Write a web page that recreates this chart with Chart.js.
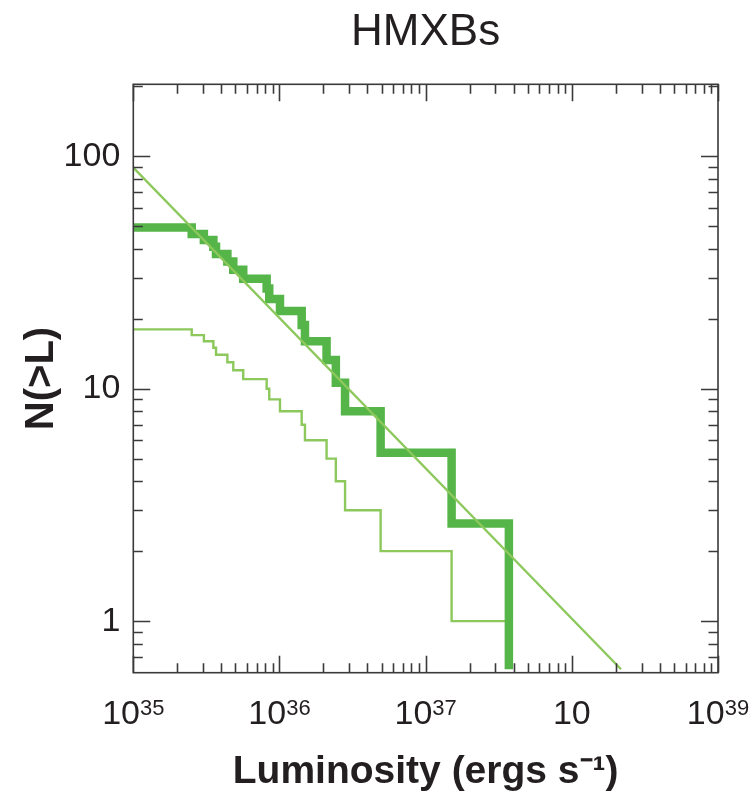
<!DOCTYPE html>
<html>
<head>
<meta charset="utf-8">
<script src="https://cdn.jsdelivr.net/npm/chart.js@4.4.1/dist/chart.umd.min.js"></script>
<style>
  html, body { margin: 0; padding: 0; background: #fff; }
  #wrap { width: 754px; height: 796px; }
</style>
</head>
<body>
<div id="wrap"><canvas id="c" width="754" height="796"></canvas></div>
<script>
// Cumulative luminosity function N(>L) of high-mass X-ray binaries

// Luminosities (erg/s) at which each cumulative level begins
const stepLuminosity = [1e35, 2.51e35, 3.04e35, 3.53e35, 3.68e35, 4.40e35, 4.83e35, 5.65e35,
  8.17e35, 8.51e35, 1.008e36, 1.419e36, 1.494e36, 2.10e36, 2.43e36, 2.81e36, 4.92e36,
  1.505e37, 3.71e37];
// Observed number of sources brighter than L
const observedCount = [18, 17, 16, 15, 14, 13, 12, 11, 10, 9, 8, 7, 6, 5, 4, 3, 2, 1, 1];
// Completeness-corrected number of sources brighter than L
const correctedCount = [49.4, 46.3, 43.6, 40.8, 38.0, 35.3, 32.5, 29.7, 27.0, 24.3, 21.6,
  18.8, 16.0, 13.3, 10.6, 8.0, 5.3, 2.63, 2.63];
// Power-law fit to the corrected distribution
const powerLawLuminosity = [1e35, 2.17e38];
const powerLawCount = [89.5, 0.621];

// Axis ticks and labels
const xTickValues = [1e35, 1e36, 1e37, 1e38, 1e39];
const xTickBase = ['10', '10', '10', '10', '10'];
const xTickExponent = ['35', '36', '37', '', '39'];
const yTickValues = [1, 10, 100];
const yTickLabels = ['1', '10', '100'];

const X_MIN = 1e35, X_MAX = 1e39;
const Y_MIN = 0.621, Y_MAX = 204;

const FONT = '"Liberation Sans", Arial, Helvetica, sans-serif';
const INK = '#231f20';
const THICK_GREEN = '#55b548';
const LIGHT_GREEN = '#8cc85c';

const pairs = (xs, ys) => xs.map((x, i) => ({ x, y: ys[i] }));

const observedPoints = pairs(stepLuminosity, observedCount);
// the corrected curve drops to the axis floor past its brightest source
const correctedPoints = pairs(stepLuminosity, correctedCount)
  .concat([{ x: stepLuminosity[stepLuminosity.length - 1], y: Y_MIN }]);
const powerLawPoints = pairs(powerLawLuminosity, powerLawCount);

// Frame, inward tick marks on all four sides, and superscripted x labels
const frameAndTicks = {
  id: 'frameAndTicks',
  afterDraw(chart) {
    const { ctx, chartArea: a, scales: { x, y } } = chart;
    ctx.save();
    ctx.strokeStyle = '#3a3a3a';
    ctx.lineWidth = 1.6;
    ctx.lineCap = 'butt';
    const MAJOR = 17, MINOR = 9.5;
    ctx.beginPath();
    for (let e = 35; e <= 39; e++) {
      for (let m = 1; m <= 9; m++) {
        const v = m * Math.pow(10, e);
        if (v < X_MIN * 0.999 || v > X_MAX * 1.001) continue;
        const px = Math.round(x.getPixelForValue(v)) + 0.5;
        const len = m === 1 ? MAJOR : MINOR;
        ctx.moveTo(px, a.bottom); ctx.lineTo(px, a.bottom - len);
        ctx.moveTo(px, a.top); ctx.lineTo(px, a.top + len);
      }
    }
    for (let e = -1; e <= 2; e++) {
      for (let m = 1; m <= 9; m++) {
        const v = m * Math.pow(10, e);
        if (v < Y_MIN || v > Y_MAX) continue;
        const py = Math.round(y.getPixelForValue(v)) + 0.5;
        const len = m === 1 ? MAJOR : MINOR;
        ctx.moveTo(a.left, py); ctx.lineTo(a.left + len, py);
        ctx.moveTo(a.right, py); ctx.lineTo(a.right - len, py);
      }
    }
    ctx.stroke();
    ctx.strokeRect(a.left, a.top, a.right - a.left, a.bottom - a.top);

    // x tick labels: base with a raised exponent
    ctx.fillStyle = INK;
    ctx.textBaseline = 'alphabetic';
    ctx.textAlign = 'left';
    const baseFont = `34px ${FONT}`, expFont = `22px ${FONT}`;
    const baseline = 724;
    xTickValues.forEach((v, i) => {
      const px = x.getPixelForValue(v);
      ctx.font = baseFont;
      const wb = ctx.measureText(xTickBase[i]).width;
      ctx.font = expFont;
      const we = xTickExponent[i] ? ctx.measureText(xTickExponent[i]).width : 0;
      const start = px - (wb + we) / 2;
      ctx.font = baseFont;
      ctx.fillText(xTickBase[i], start, baseline);
      if (xTickExponent[i]) {
        ctx.font = expFont;
        ctx.fillText(xTickExponent[i], start + wb, baseline - 9);
      }
    });
    ctx.restore();
  }
};

new Chart(document.getElementById('c'), {
  type: 'scatter',
  data: {
    datasets: [
      {
        label: 'power law',
        data: powerLawPoints,
        showLine: true,
        borderColor: LIGHT_GREEN,
        borderWidth: 2.4,
        pointRadius: 0,
        clip: 0
      },
      {
        label: 'corrected',
        data: correctedPoints,
        showLine: true,
        stepped: 'before',
        borderColor: THICK_GREEN,
        borderWidth: 8.5,
        borderJoinStyle: 'miter',
        borderCapStyle: 'butt',
        pointRadius: 0,
        clip: 0
      },
      {
        label: 'observed',
        data: observedPoints,
        showLine: true,
        stepped: 'before',
        borderColor: LIGHT_GREEN,
        borderWidth: 2.4,
        borderJoinStyle: 'miter',
        pointRadius: 0,
        clip: 0
      }
    ]
  },
  options: {
    responsive: false,
    animation: false,
    devicePixelRatio: 1,
    layout: { padding: { top: 0, right: 36, bottom: 0, left: 0 } },
    plugins: {
      legend: { display: false },
      tooltip: { enabled: false },
      title: {
        display: true,
        text: 'HMXBs',
        fullSize: false,
        color: INK,
        font: { family: FONT, size: 44, weight: 'normal', lineHeight: 1.2 },
        padding: { top: 6, bottom: 25.5 }
      }
    },
    scales: {
      x: {
        type: 'logarithmic',
        position: 'bottom',
        min: X_MIN,
        max: X_MAX,
        grid: { display: false },
        border: { display: false },
        ticks: { display: false },
        afterBuildTicks: s => { s.ticks = xTickValues.map(value => ({ value })); },
        afterFit: s => { s.height = 123.3; },
        title: {
          display: true,
          text: 'Luminosity (ergs s\u207B\u00B9)',
          color: INK,
          font: { family: FONT, size: 39, weight: 'bold', lineHeight: 1.2 },
          padding: { top: 0, bottom: 0 }
        }
      },
      y: {
        type: 'logarithmic',
        position: 'left',
        min: Y_MIN,
        max: Y_MAX,
        grid: { display: false },
        border: { display: false },
        afterBuildTicks: s => { s.ticks = yTickValues.map(value => ({ value })); },
        afterFit: s => { s.width = 133.3; },
        ticks: {
          color: INK,
          font: { family: FONT, size: 34 },
          padding: 5,
          callback: v => {
            const i = yTickValues.indexOf(v);
            return i >= 0 ? yTickLabels[i] : '';
          }
        },
        title: {
          display: true,
          text: 'N(>L)',
          color: INK,
          font: { family: FONT, size: 40, weight: 'bold', lineHeight: 1.2 },
          padding: { top: 18, bottom: 0 }
        }
      }
    }
  },
  plugins: [frameAndTicks]
});
</script>
</body>
</html>
